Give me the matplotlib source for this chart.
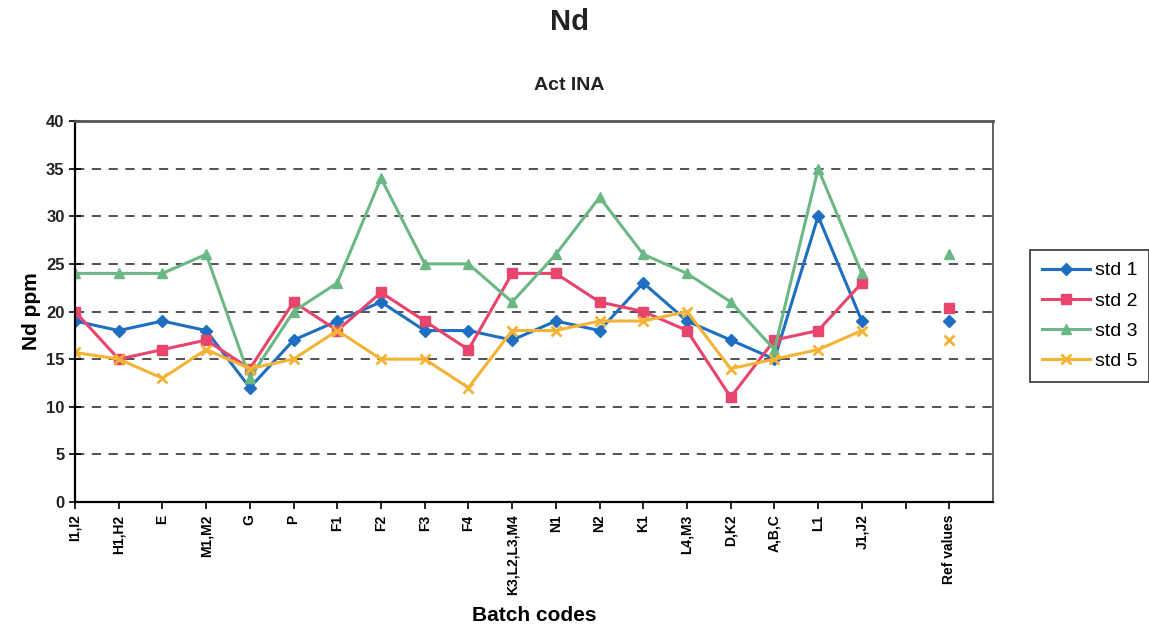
import matplotlib
matplotlib.use("Agg")
import matplotlib.pyplot as plt
import numpy as np

plt.rcParams['font.family'] = ['Liberation Sans', 'DejaVu Sans']

batches = ["I1,I2", "H1,H2", "E", "M1,M2", "G", "P", "F1", "F2", "F3", "F4",
           "K3,L2,L3,M4", "N1", "N2", "K1", "L4,M3", "D,K2", "A,B,C", "L1", "J1,J2"]
ref_label = "Ref values"

std1 = [19, 18, 19, 18, 12, 17, 19, 21, 18, 18, 17, 19, 18, 23, 19, 17, 15, 30, 19]
std2 = [20, 15, 16, 17, 14, 21, 18, 22, 19, 16, 24, 24, 21, 20, 18, 11, 17, 18, 23]
std3 = [24, 24, 24, 26, 13, 20, 23, 34, 25, 25, 21, 26, 32, 26, 24, 21, 16, 35, 24]
std5 = [15.7, 15, 13, 16, 14, 15, 18, 15, 15, 12, 18, 18, 19, 19, 20, 14, 15, 16, 18]

ref1, ref2, ref3, ref5 = 19, 20.4, 26, 17

series = [
    ("std 1", std1, ref1, "#1e6fc1", "D", 6),
    ("std 2", std2, ref2, "#e8446c", "s", 6.5),
    ("std 3", std3, ref3, "#6cb884", "^", 7),
    ("std 5", std5, ref5, "#f5b335", "x", 7),
]

fig = plt.figure(figsize=(11.49, 6.42), dpi=100)
ax = fig.add_axes([75 / 1149, 1 - 502 / 642, (993 - 75) / 1149, (502 - 121) / 642])

x = np.arange(len(batches))
ref_x = len(batches) + 1

for name, vals, ref, color, marker, ms in series:
    mew = 2 if marker == "x" else 1
    ax.plot(x, vals, color=color, lw=2.2, marker=marker, ms=ms, mew=mew,
            mec=color, mfc=color, label=name)
    ax.plot([ref_x], [ref], linestyle="none", color=color, marker=marker,
            ms=ms, mew=mew, mec=color, mfc=color)

ax.set_xlim(0, len(batches) + 2)
ax.set_ylim(0, 40)
ax.set_yticks(np.arange(0, 41, 5))
ax.set_yticklabels([str(v) for v in range(0, 41, 5)], fontsize=12, fontweight="bold",
                   color="#222222")
ticks = list(range(len(batches) + 2))
labels = batches + ["", ref_label]
ax.set_xticks(ticks)
ax.set_xticklabels(labels, rotation=90, fontsize=10, fontweight="bold")
ax.tick_params(axis="x", direction="out", length=5, width=1.2, colors="black", pad=4)
ax.tick_params(axis="y", direction="inout", length=9, width=1.2, colors="black", pad=3)
for lbl in ax.get_yticklabels():
    lbl.set_color("#222222")

for yv in range(5, 40, 5):
    ax.axhline(yv, color="#222222", lw=1.1, ls=(0, (6, 5)), zorder=0)

for side in ["left", "bottom"]:
    ax.spines[side].set_linewidth(1.6)
    ax.spines[side].set_color("black")
ax.spines["top"].set_linewidth(2.0)
ax.spines["top"].set_color("#555555")
ax.spines["right"].set_linewidth(1.2)
ax.spines["right"].set_color("#444444")

ax.set_ylabel("Nd ppm", fontsize=15, fontweight="bold", labelpad=4)
ax.set_xlabel("Batch codes", fontsize=15, fontweight="bold", labelpad=8)

fig.text(569 / 1149, 1 - 22 / 642, "Nd", ha="center", va="center",
         fontsize=21, fontweight="bold", color="#222222")
fig.text(569 / 1149, 1 - 85 / 642, "Act INA", ha="center", va="center",
         fontsize=14, fontweight="bold", color="#222222")

leg = fig.legend(loc="center left", bbox_to_anchor=(1030 / 1149, 1 - 316 / 642),
                 fontsize=14, frameon=True, fancybox=False, edgecolor="black",
                 handlelength=2.5, labelspacing=0.65, borderpad=0.6,
                 handletextpad=0.25, borderaxespad=0.0)
leg.get_frame().set_linewidth(1.2)

fig.savefig("out.png", dpi=100)
